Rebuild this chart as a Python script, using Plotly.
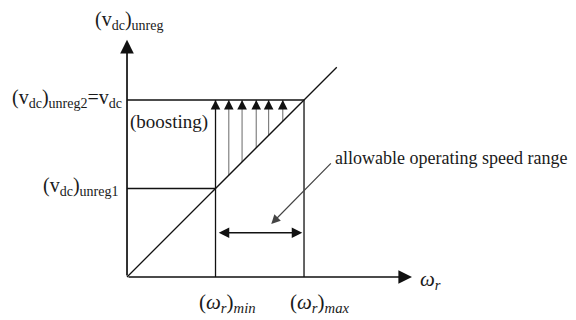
import plotly.graph_objects as go

# diagram in normalised units: omega_min = 1, v_unreg1 = 1
omega_min = 1.0
omega_max = 2.0
v_unreg1 = 1.0
v_unreg2 = 2.0
diag_end = 2.37          # where the 45 deg line stops
x_axis_end = 3.22
y_axis_end = 2.68
boost_omega = [1.0, 1.15, 1.30, 1.46, 1.60, 1.76]
range_arrow_v = 0.50
note_tail = (2.32, 1.30)
note_tip = (1.63, 0.60)

FONT = "Liberation Serif"
BLACK = "#111111"
GREY = "#777777"

fig = go.Figure()


def line(xs, ys, color=BLACK, width=1.3):
    fig.add_trace(
        go.Scatter(
            x=xs, y=ys, mode="lines",
            line=dict(color=color, width=width),
            showlegend=False, hoverinfo="skip",
        )
    )


def arrow(x0, y0, x1, y1, color=BLACK, width=1.2, size=1.0, both=False):
    fig.add_annotation(
        x=x1, y=y1, ax=x0, ay=y0,
        xref="x", yref="y", axref="x", ayref="y",
        text="", showarrow=True,
        arrowhead=2, startarrowhead=2, arrowsize=size, startarrowsize=size,
        arrowwidth=width, arrowcolor=color,
        arrowside="end+start" if both else "end",
    )


def label(x, y, text, anchor="center", size=19):
    fig.add_annotation(
        x=x, y=y, xref="x", yref="y", text=text, showarrow=False,
        xanchor=anchor, yanchor="middle",
        font=dict(family=FONT, size=size, color="#1a1a1a"),
    )


# boosting arrow shafts (grey) from the line up to v_unreg2
for w in boost_omega[1:]:
    line([w, w], [w, v_unreg2], color=GREY, width=1.1)

# v = omega line and the level lines
line([0, diag_end], [0, diag_end])
line([0, omega_min], [v_unreg1, v_unreg1])
line([0, omega_max], [v_unreg2, v_unreg2])
line([omega_min, omega_min], [0, v_unreg2])
line([omega_max, omega_max], [0, v_unreg2])

# axes
arrow(0, 0, x_axis_end, 0, width=1.7, size=1.6)
arrow(0, 0, 0, y_axis_end, width=1.7, size=1.6)

# black heads of the boosting arrows
for w in boost_omega:
    arrow(w, v_unreg2 - 0.12, w, v_unreg2, color=BLACK, width=1.2, size=1.6)

# speed range
arrow(omega_min + 0.02, range_arrow_v, omega_max - 0.02, range_arrow_v,
      width=1.4, size=1.5, both=True)
arrow(note_tail[0], note_tail[1], note_tip[0], note_tip[1],
      color="#444444", width=1.2, size=1.5)

# text
label(0.02, 2.90, "(v<sub>dc</sub>)<sub>unreg</sub>", size=20)
label(-0.03, 2.02, "(v<sub>dc</sub>)<sub>unreg2</sub>=v<sub>dc</sub>",
      anchor="right", size=20)
label(0.01, 1.75, "(boosting)", anchor="left")
label(-0.08, 1.02, "(v<sub>dc</sub>)<sub>unreg1</sub>", anchor="right", size=20)
label(2.33, 1.345, "allowable operating speed range", anchor="left", size=18)
label(1.14, -0.29, "(<i>ω<sub>r</sub></i>)<sub><i>min</i></sub>", size=21)
label(2.18, -0.29, "(<i>ω<sub>r</sub></i>)<sub><i>max</i></sub>", size=21)
label(3.29, -0.03, "<i>ω<sub>r</sub></i>", anchor="left", size=21)

fig.update_xaxes(range=[-1.435, 5.073], visible=False)
fig.update_yaxes(range=[-0.486, 3.130], visible=False)
fig.update_layout(
    width=576, height=320,
    margin=dict(l=0, r=0, t=0, b=0),
    plot_bgcolor="white", paper_bgcolor="white",
    showlegend=False,
)

fig.write_html(
    "out.html",
    config={"displayModeBar": False},
    post_script="document.body.style.margin='0';",
)
